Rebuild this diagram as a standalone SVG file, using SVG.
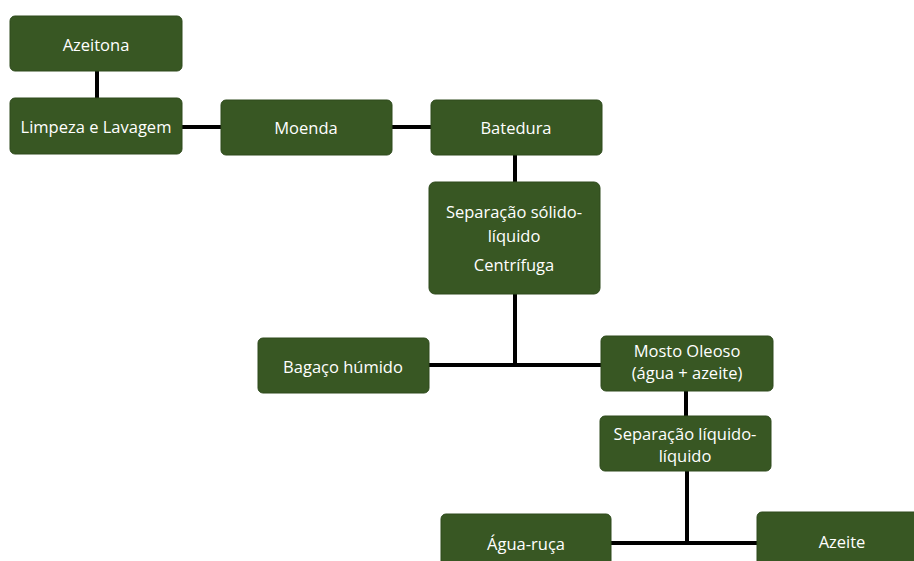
<svg xmlns="http://www.w3.org/2000/svg" width="914" height="561" viewBox="0 0 914 561">
<style>
.box{fill:#385723;stroke:#2e4a1c;stroke-width:1}
.t{font-family:"Open Sans","Liberation Sans",sans-serif;font-size:16.5px;fill:#ffffff;text-anchor:middle;dominant-baseline:central}
.c{stroke:#000;stroke-width:4;fill:none}
</style>
<rect width="914" height="561" fill="#ffffff"/>
<g id="connectors">
<path class="c" d="M97 71V98"/>
<path class="c" d="M182 127H221"/>
<path class="c" d="M392 127H431"/>
<path class="c" d="M515 155V182"/>
<path class="c" d="M515 294V365"/>
<path class="c" d="M429 365H601"/>
<path class="c" d="M686 391V416"/>
<path class="c" d="M687 471V543"/>
<path class="c" d="M611 543H757"/>
</g>
<g id="azeitona"><rect class="box" x="10" y="16" width="172" height="55" rx="5"/><text class="t" x="96" y="44">Azeitona</text></g>
<g id="limpeza"><rect class="box" x="10" y="98" width="172" height="56" rx="5"/><text class="t" x="96" y="126">Limpeza e Lavagem</text></g>
<g id="moenda"><rect class="box" x="221" y="100" width="171" height="55" rx="5"/><text class="t" x="306" y="127">Moenda</text></g>
<g id="batedura"><rect class="box" x="431" y="100" width="171" height="55" rx="5"/><text class="t" x="516" y="127">Batedura</text></g>
<g id="separacao-solido"><rect class="box" x="429" y="182" width="171" height="112" rx="6"/><text class="t" x="514" y="211">Separação sólido-</text><text class="t" x="514" y="235">líquido</text><text class="t" x="514" y="264">Centrífuga</text></g>
<g id="bagaco"><rect class="box" x="258" y="338" width="171" height="55" rx="5"/><text class="t" x="343" y="366">Bagaço húmido</text></g>
<g id="mosto"><rect class="box" x="601" y="336" width="172" height="55" rx="5"/><text class="t" x="687" y="350">Mosto Oleoso</text><text class="t" x="687" y="372">(água + azeite)</text></g>
<g id="separacao-liquido"><rect class="box" x="600" y="416" width="171" height="55" rx="5"/><text class="t" x="685" y="433">Separação líquido-</text><text class="t" x="685" y="455">líquido</text></g>
<g id="agua-ruca"><rect class="box" x="441" y="514" width="170" height="60" rx="5"/><text class="t" x="526" y="543">Água-ruça</text></g>
<g id="azeite"><rect class="box" x="757" y="512" width="170" height="60" rx="5"/><text class="t" x="842" y="541">Azeite</text></g>
</svg>
